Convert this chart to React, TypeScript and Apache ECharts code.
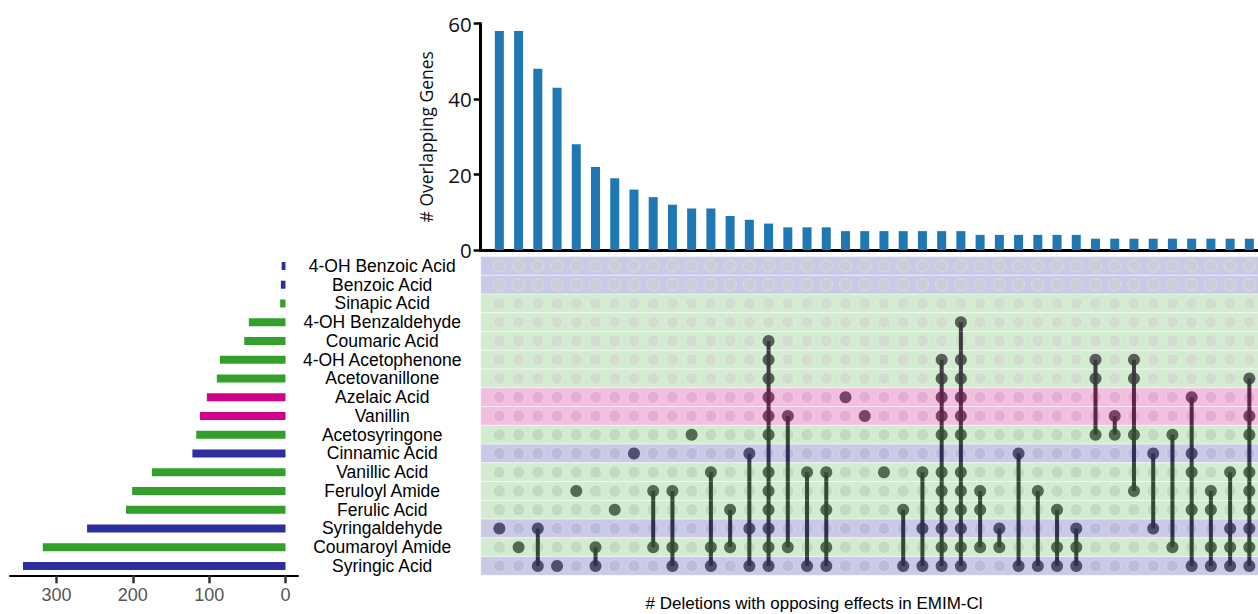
import React, { useEffect, useRef } from 'react';
import * as echarts from 'echarts';

// Sets (rows, top to bottom)
const rowNames = [
  '4-OH Benzoic Acid', 'Benzoic Acid', 'Sinapic Acid', '4-OH Benzaldehyde', 'Coumaric Acid',
  '4-OH Acetophenone', 'Acetovanillone', 'Azelaic Acid', 'Vanillin', 'Acetosyringone',
  'Cinnamic Acid', 'Vanillic Acid', 'Feruloyl Amide', 'Ferulic Acid', 'Syringaldehyde',
  'Coumaroyl Amide', 'Syringic Acid',
];
const rowGroup = [
  'blue', 'blue', 'green', 'green', 'green', 'green', 'green', 'pink', 'pink', 'green',
  'blue', 'green', 'green', 'green', 'blue', 'green', 'blue',
];
const setSizes = [5, 6, 7, 48, 54, 86, 90, 103, 112, 117, 122, 175, 201, 209, 260, 318, 344];
const setTicks = [0, 100, 200, 300];

// Intersections (columns, left to right)
const intersectionSizes = [
  58, 58, 48, 43, 28, 22, 19, 16, 14, 12, 11, 11, 9, 8, 7, 6, 6, 6,
  5, 5, 5, 5, 5, 5, 5, 4, 4, 4, 4, 4, 4, 3, 3, 3, 3, 3, 3, 3, 3, 3,
];
const memberships: number[][] = [
  [14], [15], [14, 16], [16], [12], [15, 16], [13], [10], [12, 15], [12, 15, 16],
  [9], [11, 15, 16], [13, 15], [10, 14, 16],
  [4, 5, 6, 7, 8, 9, 11, 12, 13, 14, 15, 16],
  [8, 15], [11, 16], [11, 13, 15, 16], [7], [8], [11], [13, 16], [11, 14, 16],
  [5, 6, 7, 8, 9, 11, 12, 13, 14, 15, 16],
  [3, 5, 6, 7, 8, 9, 11, 12, 13, 14, 15, 16],
  [12, 13, 15], [14, 15], [10, 16], [12, 16], [13, 15, 16], [14, 15, 16],
  [5, 6, 9], [8, 9], [5, 6, 9, 12], [10, 14], [9, 15], [7, 10, 11, 13, 16],
  [12, 13, 15, 16], [11, 14, 15, 16], [6, 8, 9, 11, 12, 13, 14, 15, 16],
];
const topTicks = [0, 20, 40, 60];

const BAND: Record<string, string> = { blue: '#cacae6', green: '#d3ebd0', pink: '#f2bfe1' };
const BAR: Record<string, string> = { blue: '#2e2f9f', green: '#33a02c', pink: '#d0008a' };
const emptyColor = (r: number) => {
  const g = rowGroup[r];
  if (r < 7) return g === 'blue' ? '#cdcdd7' : '#d2d9d0';
  if (g === 'blue') return '#b7b7da';
  if (g === 'pink') return '#e3a7d1';
  return '#bdd7bb';
};
const fillColor = (r: number) => {
  const g = rowGroup[r];
  if (r < 7) return '#3b3b3d';
  if (g === 'pink') return '#5c2449';
  if (g === 'blue') return '#2f2f52';
  return '#2f4b31';
};

const App = () => {
  const ref = useRef<HTMLDivElement>(null);
  useEffect(() => {
    const chart = echarts.init(ref.current!, null, { renderer: 'svg' });
    const nCols = intersectionSizes.length;
    const emptyData: any[] = [];
    const filledData: any[] = [];
    for (let c = 0; c < nCols; c++) {
      for (let r = 0; r < rowNames.length; r++) {
        if (memberships[c].includes(r)) {
          filledData.push({ value: [c, r], itemStyle: { color: fillColor(r) } });
        } else {
          emptyData.push({ value: [c, r], itemStyle: { color: emptyColor(r) } });
        }
      }
    }
    const connData = memberships
      .map((m, c) => [c, Math.min(...m), Math.max(...m)])
      .filter((d) => d[1] !== d[2]);

    const option: any = {
      animation: false,
      grid: [
        { left: 480.7, right: 0, top: 23.5, bottom: 364 },
        { left: 480.7, right: 0, top: 256.6, height: 318.75 },
        { left: 10, width: 288, top: 256.6, height: 318.75 },
      ],
      xAxis: [
        {
          type: 'value', gridIndex: 0, min: -0.97, max: 39.45,
          axisLine: { show: true, onZero: false, lineStyle: { color: '#000', width: 3 } },
          axisTick: { show: false }, axisLabel: { show: false }, splitLine: { show: false },
        },
        { type: 'value', gridIndex: 1, min: -0.97, max: 39.45, show: false },
        {
          type: 'value', gridIndex: 2, inverse: true, min: -16.4, max: 361,
          axisLine: { show: true, onZero: false, lineStyle: { color: '#000', width: 2 } },
          axisTick: { show: true, customValues: setTicks, length: 8, lineStyle: { color: '#333', width: 2.5 } },
          axisLabel: {
            show: true, customValues: setTicks, margin: 11, fontSize: 18,
            fontFamily: 'Liberation Sans', color: '#555',
          },
          splitLine: { show: false },
        },
      ],
      yAxis: [
        {
          type: 'value', gridIndex: 0, min: 0, max: 60, interval: 20,
          axisLine: { show: true, onZero: false, lineStyle: { color: '#000', width: 3 } },
          axisTick: { show: true, length: 7, lineStyle: { color: '#000', width: 2.5 } },
          axisLabel: { margin: 9, fontSize: 20.5, fontFamily: 'Open Sans', color: '#111',
            customValues: topTicks },
          splitLine: { show: false },
          name: '# Overlapping Genes', nameLocation: 'middle', nameGap: 46,
          nameTextStyle: { fontSize: 17.5, fontFamily: 'Open Sans', color: '#111' },
        },
        {
          type: 'category', gridIndex: 1, data: rowNames, inverse: true,
          axisLine: { show: false }, axisTick: { show: false }, splitLine: { show: false },
          axisLabel: {
            align: 'center', margin: 98.5, fontSize: 17.5,
            fontFamily: 'Liberation Sans', color: '#000', interval: 0,
          },
        },
        { type: 'category', gridIndex: 2, data: rowNames, inverse: true, show: false },
      ],
      series: [
        {
          type: 'bar', xAxisIndex: 0, yAxisIndex: 0, barWidth: 9,
          data: intersectionSizes.map((v, i) => [i, v]),
          itemStyle: { color: '#1f77b4' },
        },
        {
          type: 'custom', xAxisIndex: 1, yAxisIndex: 1, z: 1,
          data: rowNames.map((_, r) => [0, r]),
          renderItem: (params: any, api: any) => {
            const r = api.value(1);
            const cy = api.coord([0, r])[1];
            const h = api.size([0, 1])[1];
            const cs = params.coordSys;
            return {
              type: 'rect',
              shape: { x: cs.x, y: cy - h / 2, width: cs.width + 2, height: h },
              style: { fill: BAND[rowGroup[r]], stroke: 'rgba(255,255,255,0.5)', lineWidth: 1 },
            };
          },
        },
        {
          type: 'scatter', xAxisIndex: 1, yAxisIndex: 1, z: 2, symbolSize: 12,
          data: emptyData,
          itemStyle: { borderColor: 'rgba(255,255,255,0.35)', borderWidth: 1 },
        },
        {
          type: 'custom', xAxisIndex: 1, yAxisIndex: 1, z: 3,
          dimensions: ['col', 'a', 'b'], encode: { x: 0, y: 1 },
          data: connData,
          renderItem: (params: any, api: any) => {
            const col = api.value(0);
            const a = api.value(1);
            const b = api.value(2);
            const h = api.size([0, 1])[1];
            const ya = api.coord([col, a])[1];
            const yb = api.coord([col, b])[1];
            const x = api.coord([col, a])[0];
            const children: any[] = [];
            for (let r = a; r <= b; r++) {
              const cy = api.coord([col, r])[1];
              const y0 = Math.max(cy - h / 2, ya);
              const y1 = Math.min(cy + h / 2, yb);
              children.push({
                type: 'line',
                shape: { x1: x, y1: y0, x2: x, y2: y1 },
                style: { stroke: fillColor(r), lineWidth: 4 },
              });
            }
            return { type: 'group', children };
          },
        },
        {
          type: 'scatter', xAxisIndex: 1, yAxisIndex: 1, z: 4, symbolSize: 12,
          data: filledData,
        },
        {
          type: 'bar', xAxisIndex: 2, yAxisIndex: 2, barWidth: 8,
          data: setSizes.map((v, r) => ({ value: v, itemStyle: { color: BAR[rowGroup[r]] } })),
        },
      ],
      graphic: [
        {
          type: 'text', x: 814, y: 603,
          style: {
            text: '# Deletions with opposing effects in EMIM-Cl',
            fontSize: 17, fontFamily: 'Liberation Sans', fill: '#000',
            align: 'center', verticalAlign: 'middle',
            textAlign: 'center', textVerticalAlign: 'middle',
          },
        },
      ],
    };
    chart.setOption(option);
    return () => chart.dispose();
  }, []);
  return <div ref={ref} style={{ position: 'absolute', left: 0, top: 0, width: 1258, height: 614 }} />;
};

export default App;
